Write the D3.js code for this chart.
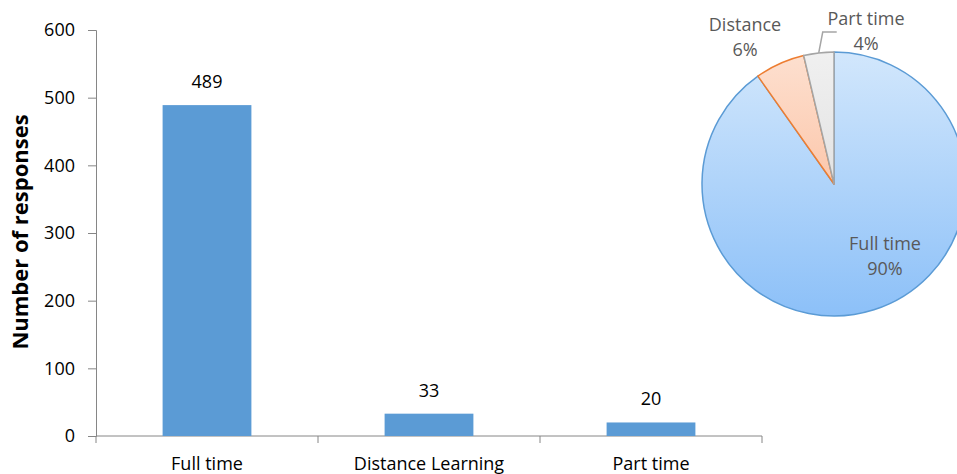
<!DOCTYPE html>
<html>
<head>
<meta charset="utf-8">
<script src="https://cdn.jsdelivr.net/npm/d3@7/dist/d3.min.js"></script>
<style>
  html, body { margin: 0; padding: 0; background: #fff; }
  svg { display: block; font-family: "Open Sans", "DejaVu Sans", sans-serif; }
</style>
</head>
<body>
<svg id="chart" width="957" height="474"></svg>
<script>
// Responses by study mode
const categories = ["Full time", "Distance Learning", "Part time"];
const responses = [489, 33, 20];
const pieLabels = ["Full time", "Distance", "Part time"];
const yTicks = [0, 100, 200, 300, 400, 500, 600];

const svg = d3.select("#chart");
const fontSize = 18;

// ---- Bar chart ----
const plot = { left: 96, right: 762, top: 30, bottom: 436 };

const x = d3.scaleBand()
  .domain(categories)
  .range([plot.left, plot.right])
  .paddingInner(0.6)
  .paddingOuter(0.3);

const y = d3.scaleLinear()
  .domain([0, 600])
  .range([plot.bottom, plot.top]);

const axisColor = "#868686";

// y axis
const yAxis = svg.append("g")
  .attr("transform", `translate(${plot.left},0)`)
  .call(d3.axisLeft(y).tickValues(yTicks).tickSize(8).tickPadding(13));
yAxis.select(".domain").attr("stroke", axisColor);
yAxis.selectAll(".tick line").attr("stroke", axisColor);
yAxis.selectAll(".tick text")
  .attr("font-size", fontSize)
  .attr("font-family", "Open Sans")
  .attr("fill", "#000");

// x axis, ticks sit on the band boundaries
const xAxisG = svg.append("g").attr("transform", `translate(0,${plot.bottom})`);
xAxisG.append("line")
  .attr("x1", plot.left).attr("x2", plot.right)
  .attr("y1", 0).attr("y2", 0)
  .attr("stroke", axisColor);
const gap = (x.step() - x.bandwidth()) / 2;
const boundaries = categories.map(c => x(c) - gap).concat([plot.right]);
xAxisG.selectAll(".xtick")
  .data(boundaries)
  .join("line")
  .attr("class", "xtick")
  .attr("x1", d => d).attr("x2", d => d)
  .attr("y1", 0).attr("y2", 7)
  .attr("stroke", axisColor);
xAxisG.selectAll(".xlabel")
  .data(categories)
  .join("text")
  .attr("class", "xlabel")
  .attr("x", d => x(d) + x.bandwidth() / 2)
  .attr("y", 34)
  .attr("text-anchor", "middle")
  .attr("font-size", fontSize)
  .attr("fill", "#000")
  .text(d => d);

// bars
svg.selectAll(".bar")
  .data(responses)
  .join("rect")
  .attr("class", "bar")
  .attr("x", (d, i) => x(categories[i]))
  .attr("y", d => y(d))
  .attr("width", x.bandwidth())
  .attr("height", d => y(0) - y(d))
  .attr("fill", "#5b9bd5");

// value labels
svg.selectAll(".val")
  .data(responses)
  .join("text")
  .attr("class", "val")
  .attr("x", (d, i) => x(categories[i]) + x.bandwidth() / 2)
  .attr("y", d => y(d) - 17)
  .attr("text-anchor", "middle")
  .attr("font-size", fontSize)
  .attr("fill", "#000")
  .text(d => d);

// y axis title
svg.append("text")
  .attr("transform", `translate(28,${232}) rotate(-90)`)
  .attr("text-anchor", "middle")
  .attr("font-size", 22)
  .attr("font-weight", "bold")
  .attr("fill", "#000")
  .text("Number of responses");

// ---- Pie chart ----
const cx = 834, cy = 184, r = 132;
const total = d3.sum(responses);

const defs = svg.append("defs");
const sliceStyles = [
  { id: "gFull", top: "#d2e7fc", bottom: "#8cc0f8", stroke: "#5b9bd5" },
  { id: "gDist", top: "#fde0d0", bottom: "#fbae86", stroke: "#ed7d31" },
  { id: "gPart", top: "#f0f0f0", bottom: "#d6d6d6", stroke: "#a5a5a5" }
];
sliceStyles.forEach(g => {
  const lg = defs.append("linearGradient")
    .attr("id", g.id)
    .attr("gradientUnits", "userSpaceOnUse")
    .attr("x1", 0).attr("y1", -r)
    .attr("x2", 0).attr("y2", r);
  lg.append("stop").attr("offset", "0%").attr("stop-color", g.top);
  lg.append("stop").attr("offset", "100%").attr("stop-color", g.bottom);
});

const pie = d3.pie().sort(null).value(d => d);
const arcs = pie(responses);
const arc = d3.arc().innerRadius(0).outerRadius(r);

const pieG = svg.append("g").attr("transform", `translate(${cx},${cy})`);
pieG.selectAll("path")
  .data(arcs)
  .join("path")
  .attr("d", arc)
  .attr("fill", (d, i) => `url(#${sliceStyles[i].id})`)
  .attr("stroke", (d, i) => sliceStyles[i].stroke)
  .attr("stroke-width", 1.5)
  .attr("stroke-linejoin", "round");

const pct = v => Math.round(v / total * 100) + "%";
const labelColor = "#595959";
const pieLabelPos = [
  { x: 885, y: 250, dy: 25 },
  { x: 745, y: 31, dy: 25 },
  { x: 866, y: 25, dy: 25 }
];
arcs.forEach((d, i) => {
  const t = svg.append("text")
    .attr("text-anchor", "middle")
    .attr("font-size", fontSize)
    .attr("fill", labelColor);
  t.append("tspan").attr("x", pieLabelPos[i].x).attr("y", pieLabelPos[i].y).text(pieLabels[i]);
  t.append("tspan").attr("x", pieLabelPos[i].x).attr("dy", pieLabelPos[i].dy).text(pct(d.data));
});

// leader line for the smallest slice
const mid = (arcs[2].startAngle + arcs[2].endAngle) / 2;
const [ex, ey] = d3.arc().innerRadius(r).outerRadius(r).centroid(arcs[2]);
svg.append("polyline")
  .attr("points", `${cx + ex},${cy + ey} ${cx + ex + 4},${32} ${cx + ex + 18},${32}`)
  .attr("fill", "none")
  .attr("stroke", "#a5a5a5")
  .attr("stroke-width", 1.5);
</script>
</body>
</html>
